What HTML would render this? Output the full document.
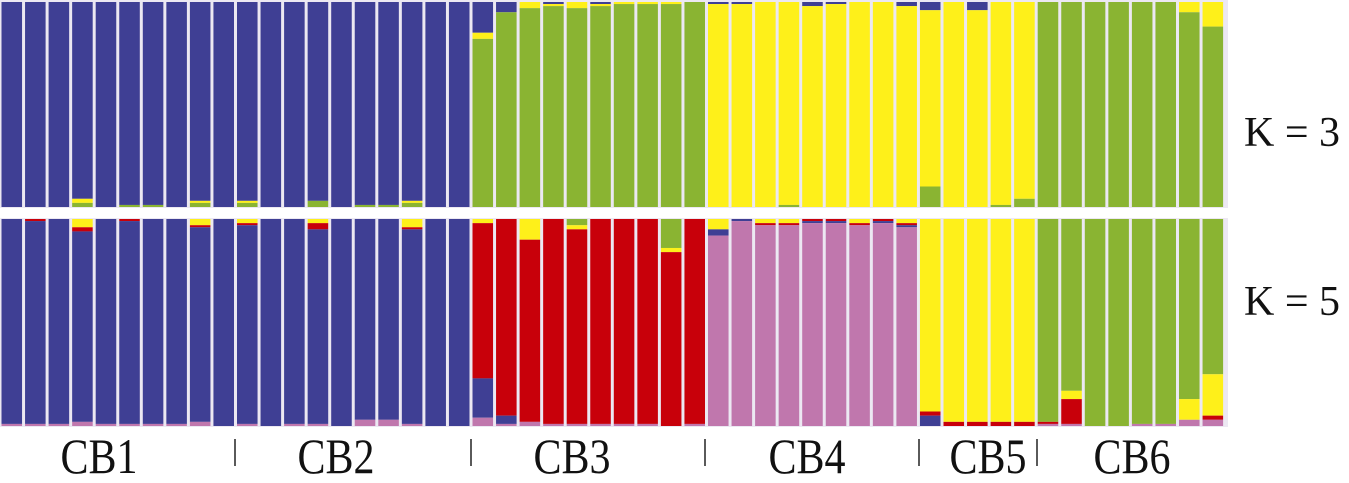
<!DOCTYPE html>
<html><head><meta charset="utf-8"><style>
body{margin:0;background:#fff;width:1349px;height:483px;overflow:hidden}
svg{display:block}
text{font-family:"Liberation Serif",serif;fill:#111}
</style></head><body>
<svg id="c" width="1349" height="483"></svg>
<script>
const groups=["CB1","CB2","CB3","CB4","CB5","CB6"];
const groupSizes=[10,10,10,9,5,8];
const labelCenters=[99,336,572,807,988,1132];
const sepX=[235,471,705,919,1037];
const k3Colors=["#3f3f94","#fef01a","#8ab432"];
const k5Colors=["#8ab432","#fef01a","#c8000a","#3f3f94","#c077ad"];
// K=3 proportions per bar: [blue, yellow, green] (top to bottom)
const k3=[
[1,0,0],[1,0,0],[1,0,0],[.96,.02,.02],[1,0,0],[.99,0,.01],[.99,0,.01],[1,0,0],[.97,.01,.02],[1,0,0],
[.97,.01,.02],[1,0,0],[1,0,0],[.97,0,.03],[1,0,0],[.99,0,.01],[.99,0,.01],[.97,.01,.02],[1,0,0],[1,0,0],
[.15,.03,.82],[.05,0,.95],[0,.03,.97],[.01,.01,.98],[0,.03,.97],[.01,.01,.98],[0,.01,.99],[0,.01,.99],[0,.01,.99],[0,0,1],
[.01,.99,0],[.01,.99,0],[0,1,0],[0,.99,.01],[.02,.98,0],[.01,.99,0],[0,1,0],[0,1,0],[.02,.98,0],
[.04,.86,.10],[0,1,0],[.04,.96,0],[0,.99,.01],[0,.96,.04],
[0,0,1],[0,0,1],[0,0,1],[0,0,1],[0,0,1],[0,0,1],[0,.05,.95],[0,.12,.88]
];
// K=5 proportions per bar: [green, yellow, red, blue, pink]
const k5=[
[0,0,0,.99,.01],[0,0,.01,.98,.01],[0,0,0,.99,.01],[0,.04,.02,.92,.02],[0,0,0,.99,.01],[0,0,.01,.98,.01],[0,0,0,.99,.01],[0,0,0,.99,.01],[0,.03,.01,.94,.02],[0,0,0,1,0],
[0,.02,.01,.96,.01],[0,0,0,1,0],[0,0,0,.99,.01],[0,.02,.03,.94,.01],[0,0,0,1,0],[0,0,0,.97,.03],[0,0,0,.97,.03],[0,.04,.01,.94,.01],[0,0,0,1,0],[0,0,0,1,0],
[0,.02,.75,.19,.04],[0,0,.95,.04,.01],[0,.1,.88,0,.02],[0,0,.99,0,.01],[.03,.02,.94,0,.01],[0,0,.99,0,.01],[0,0,.99,0,.01],[0,0,.99,0,.01],[.14,.02,.84,0,0],[0,0,.99,0,.01],
[0,.05,0,.03,.92],[0,0,0,.01,.99],[0,.02,.01,0,.97],[0,.02,.01,0,.97],[0,0,.01,.01,.98],[0,0,.01,.01,.98],[0,.02,.01,0,.97],[0,0,.01,.01,.98],[0,.02,.01,.01,.96],
[0,.93,.02,.05,0],[0,.98,.02,0,0],[0,.98,.02,0,0],[0,.98,.02,0,0],[0,.98,.02,0,0],
[.98,0,.01,0,.01],[.83,.04,.12,0,.01],[1,0,0,0,0],[1,0,0,0,0],[.99,0,0,0,.01],[.99,0,0,0,.01],[.87,.1,0,0,.03],[.75,.2,.02,0,.03]
];
const svg=document.getElementById('c');
const NS="http://www.w3.org/2000/svg";
const barW=23.55, x0=0;
function xPos(i){return x0+i*barW;}
function mk(tag,attrs){const e=document.createElementNS(NS,tag);for(const k in attrs)e.setAttribute(k,attrs[k]);svg.appendChild(e);return e;}
const bg=mk('rect',{x:0,y:0,width:1228,height:427,fill:'#ece8f2'});


function panel(data,colors,top,h,name){
  data.forEach((props,i)=>{
    let y=top;const tot=props.reduce((a,b)=>a+b,0);
    props.forEach((p,j)=>{
      if(p<=0)return;const hh=p/tot*h;
      const r=mk('rect',{x:xPos(i)+1.5,y:y,width:barW-3,height:hh,fill:colors[j]});
      
      
      y+=hh;
    });
  });
}
panel(k3,k3Colors,2,205,'k3');
panel(k5,k5Colors,219,207,'k5');
const sep=mk('rect',{x:0,y:208,width:1228,height:10,fill:'#ffffff'});


groups.forEach((g,gi)=>{
  const cx=labelCenters[gi];
  const t=mk('text',{x:0,y:0,'font-size':42,'text-anchor':'middle',transform:'translate('+cx+',473) scale(1,1.18)'});
  t.textContent=g;
  
  
});
sepX.forEach(x=>{
  const l=mk('line',{x1:x,x2:x,y1:439,y2:466,stroke:'#222','stroke-width':1.5});
  
  
});
const t3=mk('text',{x:1244,y:146,'font-size':42});t3.textContent='K = 3';


const t5=mk('text',{x:1244,y:315,'font-size':42});t5.textContent='K = 5';


</script>
</body></html>
